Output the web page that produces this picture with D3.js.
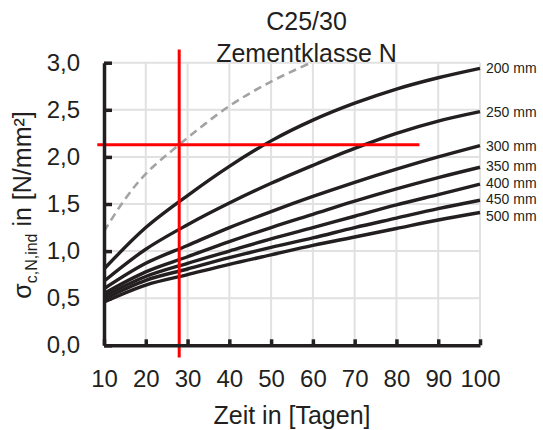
<!DOCTYPE html>
<html>
<head>
<meta charset="utf-8">
<script src="https://cdn.jsdelivr.net/npm/d3@7"></script>
<style>
  body { margin: 0; background: #fff; }
  text { font-family: "Liberation Sans", Arial, sans-serif; fill: #231f20; }
</style>
</head>
<body>
<div id="chart"></div>
<script>
// values
const days = [10, 20, 30, 40, 50, 60, 70, 80, 90, 100];
const thickness = ["200 mm", "250 mm", "300 mm", "350 mm", "400 mm", "450 mm", "500 mm"];
const s200 = [0.81, 1.25, 1.59, 1.90, 2.17, 2.39, 2.57, 2.72, 2.84, 2.94];
const s250 = [0.68, 1.02, 1.28, 1.51, 1.72, 1.91, 2.09, 2.25, 2.38, 2.48];
const s300 = [0.60, 0.87, 1.06, 1.25, 1.42, 1.58, 1.73, 1.87, 2.00, 2.12];
const s350 = [0.55, 0.78, 0.94, 1.10, 1.25, 1.39, 1.53, 1.66, 1.78, 1.89];
const s400 = [0.52, 0.73, 0.87, 1.00, 1.13, 1.25, 1.37, 1.49, 1.60, 1.71];
const s450 = [0.49, 0.69, 0.81, 0.93, 1.04, 1.14, 1.25, 1.35, 1.45, 1.54];
const s500 = [0.46, 0.64, 0.75, 0.86, 0.96, 1.06, 1.15, 1.24, 1.33, 1.41];

// dashed grey reference curve
const refDays = [10, 15, 20, 28, 40, 50, 59.5];
const refValues = [1.21, 1.55, 1.82, 2.13, 2.54, 2.80, 3.0];

// red reading lines
const markerDay = 28, markerStress = 2.13;
const markerStressSpan = [-0.13, 3.14];
const markerDaySpan = [8.4, 85.5];

const xTicks = [10, 20, 30, 40, 50, 60, 70, 80, 90, 100];
const yTicks = [0, 0.5, 1, 1.5, 2, 2.5, 3];

const series = [s200, s250, s300, s350, s400, s450, s500];
// label offsets in px from the line end (labels are spread apart)
const labelNudge = [0, 0, 1, -1, -1.5, -1.5, 4];

const width = 543, height = 430;
const mLeft = 104, mRight = 480, mTop = 62.7, mBottom = 345.3;

const x = d3.scaleLinear().domain([10, 100]).range([mLeft, mRight]);
const y = d3.scaleLinear().domain([0, 3]).range([mBottom, mTop]);

const svg = d3.select("#chart").append("svg")
    .attr("width", width)
    .attr("height", height);

// grid
const grid = svg.append("g").attr("stroke", "#e1e1e1").attr("stroke-width", 2);
grid.selectAll("line.v").data(xTicks.slice(1)).enter().append("line")
    .attr("x1", d => x(d)).attr("x2", d => x(d))
    .attr("y1", y(0)).attr("y2", y(3));
grid.selectAll("line.h").data(yTicks.slice(1)).enter().append("line")
    .attr("x1", x(10)).attr("x2", x(100))
    .attr("y1", d => y(d)).attr("y2", d => y(d));

// curves
const line = d3.line()
    .x((d, i) => x(days[i]))
    .y(d => y(d))
    .curve(d3.curveCatmullRom.alpha(0.5));

const refLine = d3.line()
    .x((d, i) => x(refDays[i]))
    .y(d => y(d))
    .curve(d3.curveCatmullRom.alpha(0.5));

svg.append("path")
    .attr("d", refLine(refValues))
    .attr("fill", "none")
    .attr("stroke", "#a3a3a3")
    .attr("stroke-width", 2.6)
    .attr("stroke-dasharray", "8,5");

svg.append("g").selectAll("path").data(series).enter().append("path")
    .attr("d", d => line(d))
    .attr("fill", "none")
    .attr("stroke", "#231f20")
    .attr("stroke-width", 3.4);

// red reading lines
svg.append("line")
    .attr("x1", x(markerDay)).attr("x2", x(markerDay))
    .attr("y1", y(markerStressSpan[0])).attr("y2", y(markerStressSpan[1]))
    .attr("stroke", "#ff0000").attr("stroke-width", 3);
svg.append("line")
    .attr("x1", x(markerDaySpan[0])).attr("x2", x(markerDaySpan[1]))
    .attr("y1", y(markerStress)).attr("y2", y(markerStress))
    .attr("stroke", "#ff0000").attr("stroke-width", 3);

// axes
const fmt = d => d3.format(".1f")(d).replace(".", ",");
const xAxis = d3.axisBottom(x).tickValues(xTicks).tickSizeInner(-6).tickSizeOuter(0).tickPadding(25);
const yAxis = d3.axisLeft(y).tickValues(yTicks).tickFormat(fmt).tickSizeInner(-8).tickSizeOuter(0).tickPadding(24);

const gx = svg.append("g").attr("transform", "translate(0," + mBottom + ")").call(xAxis);
const gy = svg.append("g").attr("transform", "translate(" + mLeft + ",0)").call(yAxis);

[gx, gy].forEach(g => {
    g.select(".domain").attr("stroke", "#231f20").attr("stroke-width", 3.5);
    g.selectAll(".tick line").attr("stroke", "#231f20").attr("stroke-width", 3.5);
    g.selectAll(".tick text")
        .attr("font-size", 24)
        .attr("font-family", "Liberation Sans, Arial, sans-serif")
        .attr("fill", "#231f20");
});

// series labels
svg.append("g").selectAll("text").data(thickness).enter().append("text")
    .attr("x", 486)
    .attr("y", (d, i) => y(series[i][series[i].length - 1]) + labelNudge[i])
    .attr("dy", "0.35em")
    .attr("font-size", 14)
    .text(d => d);

// titles
svg.append("text")
    .attr("x", 306.5).attr("y", 29.5)
    .attr("text-anchor", "middle")
    .attr("font-size", 25)
    .text("C25/30");
svg.append("text")
    .attr("x", 306.5).attr("y", 61.5)
    .attr("text-anchor", "middle")
    .attr("font-size", 25)
    .text("Zementklasse N");

svg.append("text")
    .attr("x", 292).attr("y", 424)
    .attr("text-anchor", "middle")
    .attr("font-size", 25)
    .text("Zeit in [Tagen]");

const yl = svg.append("text")
    .attr("transform", "translate(31,205) rotate(-90)")
    .attr("text-anchor", "middle")
    .attr("font-size", 25);
yl.append("tspan").text("σ");
yl.append("tspan").attr("font-size", 16).attr("dy", 6).text("c,N,ind");
yl.append("tspan").attr("dy", -6).text(" in [N/mm²]");
</script>
</body>
</html>
